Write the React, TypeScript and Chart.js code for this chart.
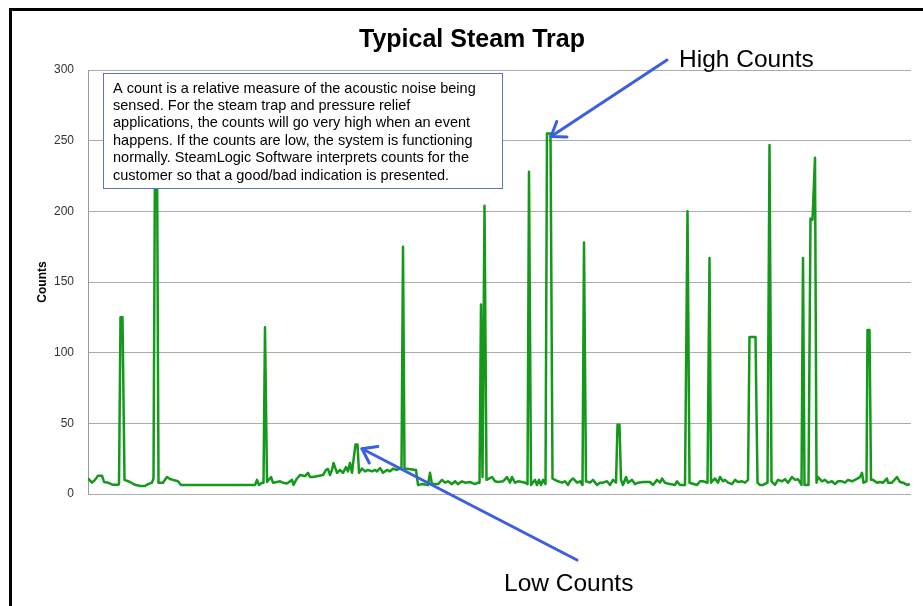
import React, { useEffect, useRef } from "react";
import { Chart, registerables } from "chart.js";

Chart.register(...registerables);

// sample number along the recording and the acoustic counts read at it
const sampleNo = [
  0, 2, 3.5, 5, 7, 8, 10, 12.5, 15, 15.5, 16.25, 17.25, 18.25, 21, 23.5, 26, 28.5, 30, 32, 32.75,
  33.5, 34.5, 35.25, 37.5, 39.5, 41, 42.5, 45, 46.5, 83.5, 84.5, 85.5, 87, 87.75, 88.5, 89.5, 91.5,
  92.5, 94.5, 96, 97.5, 99.5, 102, 102.75, 104.5, 106, 108.5, 110, 111, 112.5, 115, 117.5, 119, 120,
  121, 122, 122.75, 124.5, 126, 127.5, 129, 130, 131, 132, 132.75, 133.75, 134.75, 135.5, 137, 138.5,
  140, 142, 143.5, 144.5, 146, 147.5, 149.5, 151, 152.5, 154.5, 156, 156.75, 157.5, 158.25, 164, 165,
  167, 170, 171, 172, 173.5, 175, 177, 178.5, 180, 182, 183.5, 185, 187, 188.5, 191, 193.5, 195,
  195.75, 196.5, 197.25, 198.25, 199.25, 202, 203.5, 205, 207.5, 209.5, 211, 212, 213.5, 215, 217,
  218.5, 219.75, 220.5, 221.5, 223.5, 224.5, 225.5, 226.5, 227.5, 228.75, 229.5, 231.25, 232.25,
  233.5, 235, 237, 238.5, 240, 241, 242.5, 244.5, 246, 247.25, 248, 249, 251, 252.5, 254.5, 256,
  257.5, 259.5, 261, 262.5, 264, 264.75, 265.75, 266.5, 267.5, 269, 270, 272, 273.5, 275, 277.5, 281,
  282.5, 284.5, 286, 287, 288.5, 291, 293.5, 294.5, 296, 298.5, 299.75, 300.75, 304.5, 306, 307.5,
  309.75, 310.75, 311.5, 313.5, 315, 316, 317.5, 318.5, 320, 322, 323.5, 325, 327, 328.5, 330,
  330.75, 333.75, 334.75, 336, 337.5, 339.75, 340.75, 341.75, 343.5, 345, 347, 348.5, 350, 352,
  353.5, 355, 356.75, 357.5, 358.25, 360.25, 361.25, 362.25, 363.5, 364.25, 365, 367, 368.5, 370,
  372, 373.5, 375, 377, 378.5, 380, 382, 383.5, 386, 387, 387.75, 389.25, 389.75, 390.75, 391.5,
  392.5, 394.5, 396, 397.5, 399.5, 400, 402, 404.5, 406, 407.5, 409.5, 411,
];

const counts = [
  11, 8, 10, 13, 13, 8.5, 8, 6.5, 6.5, 7, 125, 125, 10, 8.5, 6.5, 5.7, 5.7, 7, 8, 11,
  245, 245, 8, 8, 12, 10.6, 10, 9, 6.4, 6.4, 10, 6.4, 8, 8, 118, 8.5, 12,
  8, 8.5, 9, 8, 7.5, 10, 6.4, 11, 13.4, 12.7, 15, 12, 12, 12.7, 13.4, 17, 17.7,
  13.4, 17, 22, 15, 17, 15, 19, 16, 22, 15, 24, 35, 35, 15, 18, 16,
  17, 16, 17, 16, 18.4, 15, 17, 16, 18, 17, 18, 19, 175, 18, 17, 6.4,
  7, 6.4, 15, 7, 7, 7, 10, 8, 9, 7, 9, 7, 9, 8, 8.5, 7, 8,
  8, 134, 12, 204, 10, 12, 9, 8.5, 9, 12, 8, 12, 8, 9, 8.5,
  8, 7, 228, 6.4, 10, 6.4, 10, 6.4, 10, 7, 255, 255, 11,
  10, 9, 8, 9, 6.4, 9, 11, 8, 9, 6.4, 178, 9, 8, 10, 6.4, 8,
  8, 9, 6.4, 10, 8, 49, 49, 10, 6.4, 12, 8, 10, 7, 8, 8.5, 8.5,
  6.4, 10, 8, 11, 8, 7, 6.4, 9, 6.4, 6.4, 200, 8, 6.4, 9, 9,
  8, 167, 8, 11, 8, 12, 9, 10, 8, 7, 10, 8.5, 9, 8, 10,
  111, 111, 8, 6.4, 6.4, 8, 247, 9, 6.4, 10, 9, 10.5, 8, 12,
  10, 10.5, 6.4, 167, 6.4, 6.4, 195, 194, 238, 8, 12, 9, 10, 8,
  9, 7, 9, 9, 8, 10, 9, 10, 12, 15, 8, 9, 116, 116, 10,
  10, 8, 8.5, 8, 11, 8, 8, 12, 8.5, 8, 6.4, 7,
];

const yMin = 0;
const yMax = 300;
const yStep = 50;
const sampleMax = 411.5;

const chartTitle = "Typical Steam Trap";
const yAxisTitle = "Counts";
const noteLines = [
  "A count is a relative measure of the acoustic noise being",
  "sensed. For the steam trap and pressure relief",
  "applications, the counts will go very high when an event",
  "happens. If the counts are low, the system is functioning",
  "normally. SteamLogic Software interprets counts for the",
  "customer so that a good/bad indication is presented.",
];
const highLabel = "High Counts";
const lowLabel = "Low Counts";
// points the arrows aim at (sample number, counts)
const highTarget = [231.5, 253];
const lowTarget = [137, 32];

const FONT = "'Liberation Sans', Arial, Helvetica, sans-serif";
const ARROW = "#3d5ee0";

function drawArrow(ctx: CanvasRenderingContext2D, x0: number, y0: number, x1: number, y1: number) {
  ctx.beginPath();
  ctx.moveTo(x0, y0);
  ctx.lineTo(x1, y1);
  ctx.stroke();
  const ang = Math.atan2(y0 - y1, x0 - x1);
  const len = 16;
  const spread = 0.62;
  ctx.beginPath();
  ctx.moveTo(x1 + Math.cos(ang + spread) * len, y1 + Math.sin(ang + spread) * len);
  ctx.lineTo(x1, y1);
  ctx.lineTo(x1 + Math.cos(ang - spread) * len, y1 + Math.sin(ang - spread) * len);
  ctx.stroke();
}

const overlay = {
  id: "overlay",
  afterDatasetsDraw(chart: any) {
    const ctx: CanvasRenderingContext2D = chart.ctx;
    const xs = chart.scales.x;
    const ys = chart.scales.y;
    ctx.save();
    // title
    ctx.fillStyle = "#000000";
    ctx.font = `bold 25px ${FONT}`;
    ctx.textAlign = "center";
    ctx.textBaseline = "middle";
    ctx.fillText(chartTitle, 472, 40);

    // note box
    ctx.fillStyle = "#ffffff";
    ctx.fillRect(103, 73, 399, 115);
    ctx.strokeStyle = "#5b76c9";
    ctx.lineWidth = 1;
    ctx.strokeRect(103.5, 73.5, 399, 115);
    ctx.fillStyle = "#000000";
    ctx.font = `14.5px ${FONT}`;
    ctx.textBaseline = "middle";
    ctx.textAlign = "left";
    noteLines.forEach((l, i) => ctx.fillText(l, 113, 88.5 + i * 17.4));

    // arrows
    ctx.strokeStyle = ARROW;
    ctx.lineWidth = 3;
    ctx.lineCap = "round";
    ctx.lineJoin = "round";
    drawArrow(ctx, 667, 60, xs.getPixelForValue(highTarget[0]), ys.getPixelForValue(highTarget[1]));
    drawArrow(ctx, 577, 560, xs.getPixelForValue(lowTarget[0]), ys.getPixelForValue(lowTarget[1]));

    ctx.fillStyle = "#000000";
    ctx.font = `24.5px ${FONT}`;
    ctx.textBaseline = "middle";
    ctx.fillText(highLabel, 679, 60);
    ctx.fillText(lowLabel, 504, 584);

    // frame
    ctx.fillStyle = "#000000";
    ctx.fillRect(9, 8, 914, 3);
    ctx.fillRect(9, 8, 3, 598);
    ctx.restore();
  },
};

export default function App() {
  const ref = useRef<HTMLCanvasElement>(null);
  useEffect(() => {
    if (!ref.current) return;
    const chart = new Chart(ref.current, {
      type: "line",
      data: {
        datasets: [
          {
            label: yAxisTitle,
            data: sampleNo.map((s, i) => ({ x: s, y: counts[i] })),
            borderColor: "#14991a",
            borderWidth: 2.5,
            pointRadius: 0,
            tension: 0,
            borderJoinStyle: "round",
          },
        ],
      },
      options: {
        animation: false,
        responsive: false,
        maintainAspectRatio: false,
        layout: { padding: { top: 70, left: 0, right: 12, bottom: 112 } },
        plugins: {
          legend: { display: false },
          tooltip: { enabled: false },
          title: { display: false, text: chartTitle },
        },
        scales: {
          x: {
            type: "linear",
            min: 0,
            max: sampleMax,
            display: false,
          },
          y: {
            min: yMin,
            max: yMax,
            afterFit: (s: any) => {
              s.width = 88;
            },
            ticks: {
              stepSize: yStep,
              padding: 14,
              color: "#333333",
              font: { family: FONT, size: 12 },
            },
            grid: { color: "#ababab", lineWidth: 1, drawTicks: false },
            border: { display: true, color: "#9a9a9a" },
            title: {
              display: true,
              text: yAxisTitle,
              color: "#000000",
              font: { family: FONT, size: 12, weight: "bold" },
              padding: { top: 35, bottom: 0 },
            },
          },
        },
      },
      plugins: [overlay],
    });
    return () => chart.destroy();
  }, []);
  return (
    <div style={{ position: "fixed", left: 0, top: 0, width: 923, height: 606, background: "#fff" }}>
      <canvas ref={ref} width={923} height={606} style={{ display: "block" }} />
    </div>
  );
}
